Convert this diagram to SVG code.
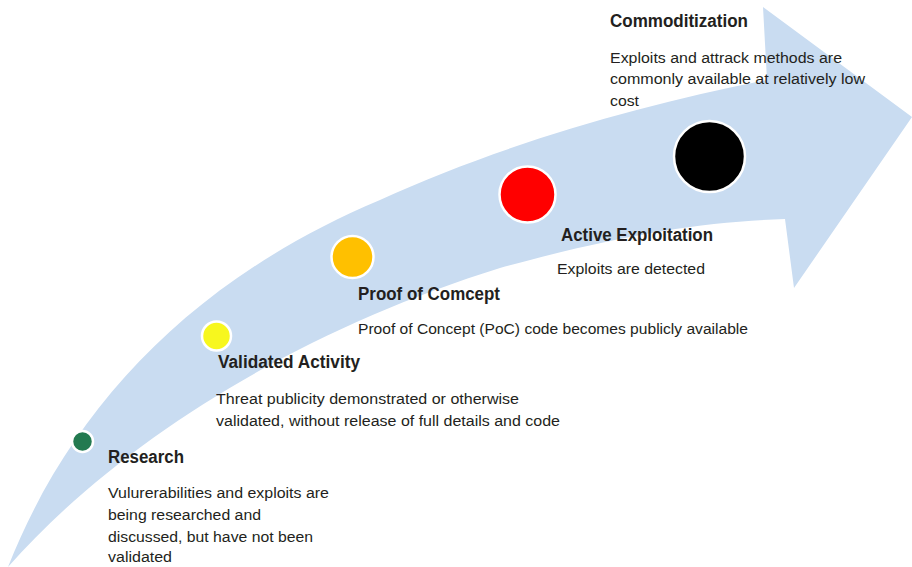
<svg xmlns="http://www.w3.org/2000/svg" width="912" height="567" viewBox="0 0 912 567">
<style>
.t{font-family:"Liberation Sans",Arial,sans-serif;font-weight:bold;font-size:18px;fill:#231f20}
.b{font-family:"Liberation Sans",Arial,sans-serif;font-size:15.5px;fill:#231f20}
.dot{stroke:#ffffff;stroke-width:2.5}
</style>
<rect width="912" height="567" fill="#ffffff"/>
<g id="arrow">
<path d="M8,567 C70,410 190,280 380,200 C500,145 640,105 767,80 L763,7 L912,117 L794,288 L785,219 C700,222 620,235 500,268 C300,330 120,440 8,567 Z" fill="#c9dcf1"/>
</g>
<g id="research">
<circle class="dot" cx="82.5" cy="441.5" r="10.5" fill="#237a50"/>
<text class="t" x="108" y="463" textLength="76" lengthAdjust="spacingAndGlyphs">Research</text>
<text class="b" x="108" y="497.5" textLength="221" lengthAdjust="spacingAndGlyphs">Vulurerabilities and exploits are</text>
<text class="b" x="108" y="519.5" textLength="153" lengthAdjust="spacingAndGlyphs">being researched and</text>
<text class="b" x="108" y="541.5" textLength="205" lengthAdjust="spacingAndGlyphs">discussed, but have not been</text>
<text class="b" x="108" y="562" textLength="64" lengthAdjust="spacingAndGlyphs">validated</text>
</g>
<g id="validated">
<circle class="dot" cx="216.5" cy="336" r="14.5" fill="#f7f71e"/>
<text class="t" x="218" y="368" textLength="142" lengthAdjust="spacingAndGlyphs">Validated Activity</text>
<text class="b" x="216" y="404" textLength="303" lengthAdjust="spacingAndGlyphs">Threat publicity demonstrated or otherwise</text>
<text class="b" x="216" y="425.5" textLength="344" lengthAdjust="spacingAndGlyphs">validated, without release of full details and code</text>
</g>
<g id="poc">
<circle class="dot" cx="352.5" cy="257" r="21" fill="#ffc000"/>
<text class="t" x="358" y="299.5" textLength="142" lengthAdjust="spacingAndGlyphs">Proof of Comcept</text>
<text class="b" x="358" y="334" textLength="390" lengthAdjust="spacingAndGlyphs">Proof of Concept (PoC) code becomes publicly available</text>
</g>
<g id="active">
<circle class="dot" cx="527.5" cy="194.5" r="28" fill="#ff0000"/>
<text class="t" x="561" y="240.5" textLength="152" lengthAdjust="spacingAndGlyphs">Active Exploitation</text>
<text class="b" x="557" y="273.5" textLength="148" lengthAdjust="spacingAndGlyphs">Exploits are detected</text>
</g>
<g id="commoditization">
<circle class="dot" cx="709.5" cy="156.5" r="35.5" fill="#000000"/>
<text class="t" x="610" y="26.5" textLength="138" lengthAdjust="spacingAndGlyphs">Commoditization</text>
<text class="b" x="610" y="62.5" textLength="232" lengthAdjust="spacingAndGlyphs">Exploits and attrack methods are</text>
<text class="b" x="610" y="84" textLength="255" lengthAdjust="spacingAndGlyphs">commonly available at relatively low</text>
<text class="b" x="610" y="105.5" textLength="29" lengthAdjust="spacingAndGlyphs">cost</text>
</g>
<g id="connectors"></g>
</svg>
